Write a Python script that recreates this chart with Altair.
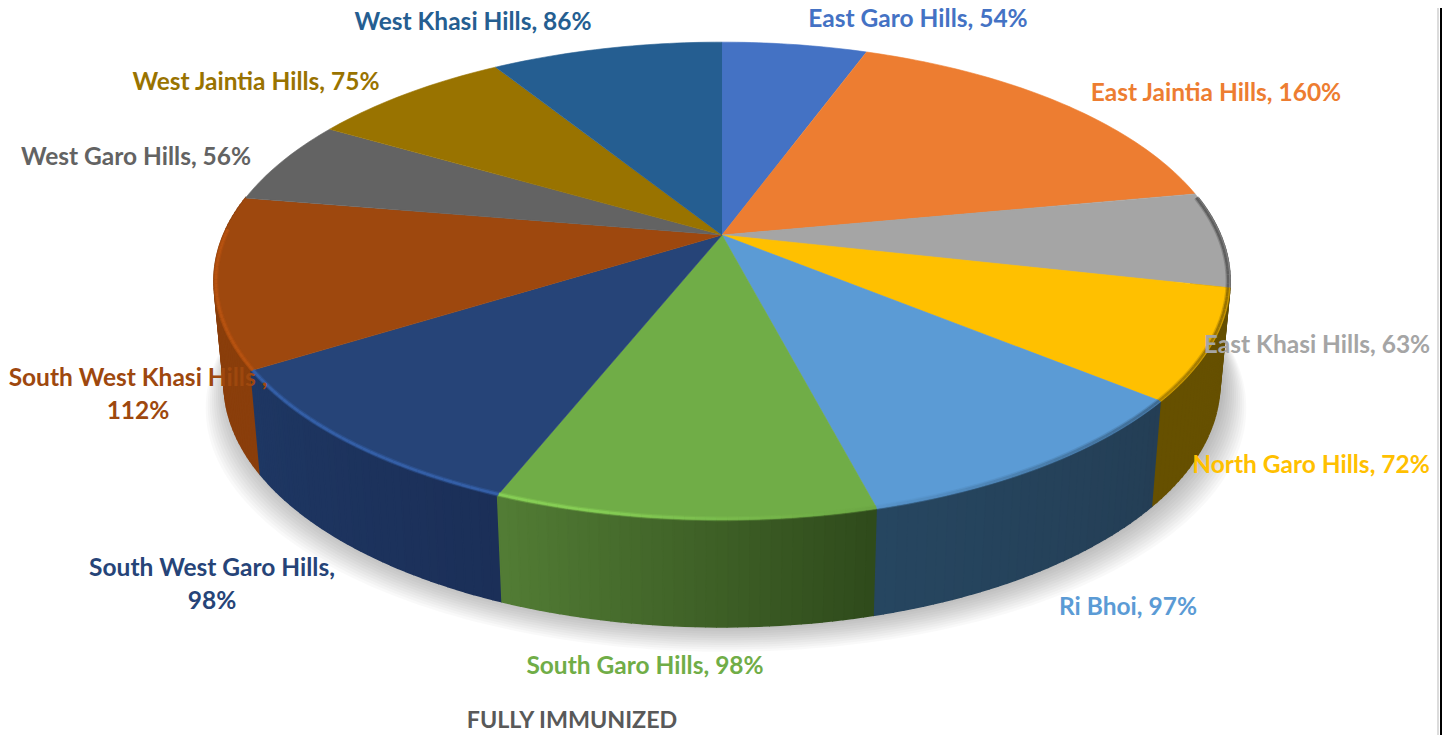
import math
import altair as alt
import pandas as pd

NAMES = ["East Garo Hills", "East Jaintia Hills", "East Khasi Hills", "North Garo Hills",
         "Ri Bhoi", "South Garo Hills", "South West Garo Hills", "South West Khasi Hills",
         "West Garo Hills", "West Jaintia Hills", "West Khasi Hills"]
VALUES = [54, 160, 63, 72, 97, 98, 98, 112, 56, 75, 86]
COLORS = ["#4472C4", "#ED7D31", "#A5A5A5", "#FFC000", "#5B9BD5", "#70AD47",
          "#264478", "#9E480E", "#636363", "#997300", "#255E91"]
WALL_START = ["#2a4a80", "#8f4a1c", "#5a5a5a", "#665000", "#243e55", "#2f4a1b",
              "#1b2f58", "#8a3e0b", "#444444", "#665000", "#1b3f60"]
WALL_END = ["#2a4a80", "#8f4a1c", "#5a5a5a", "#665000", "#264660", "#527d35",
            "#1e3763", "#8a3e0b", "#444444", "#665000", "#1b3f60"]
LIT = [1.2, 1.2, 1.2, 1.2, 1.2, 1.22, 1.45, 1.17, 1.2, 1.2, 1.2]
TITLE = "FULLY IMMUNIZED"

# Label text (centre anchors in picture coordinates), one row per text line
LABELS = [
    (0, "{n}, {v}%", 918, 20), (1, "{n}, {v}%", 1216, 94), (2, "{n}, {v}%", 1317, 346),
    (3, "{n}, {v}%", 1311, 466), (4, "{n}, {v}%", 1128, 608), (5, "{n}, {v}%", 645, 667),
    (6, "{n},", 212, 569), (6, "{v}%", 212, 602), (7, "{n} ,", 138, 379), (7, "{v}%", 138, 412),
    (8, "{n}, {v}%", 136, 158), (9, "{n}, {v}%", 256, 83), (10, "{n}, {v}%", 473, 23),
]

CX, CY, A, B, K = 722.0, 235.0, 498.6, 230.0, 0.1925
FONT = "Lato"


def top(th):
    u, v = math.sin(th), math.cos(th)
    w = 1 + K * v
    return CX + A * u / w, CY - B * v / w


def low(th):
    x, y = top(th)
    return CX + 0.98 * (x - CX), y + 104 + 0.02 * (y - 368)


def mix(c1, c2, t):
    a = [int(c1[i:i + 2], 16) for i in (1, 3, 5)]
    b = [int(c2[i:i + 2], 16) for i in (1, 3, 5)]
    return "#%02x%02x%02x" % tuple(round(p + (q - p) * t) for p, q in zip(a, b))


def brighten(c, f):
    a = [int(c[i:i + 2], 16) for i in (1, 3, 5)]
    return "#%02x%02x%02x" % tuple(min(255, round(p * f)) for p in a)


total = sum(VALUES)
edges = [0.0]
for val in VALUES:
    edges.append(edges[-1] + val / total * 2 * math.pi)

STEP = math.radians(1.0)


def arc_angles(a0, a1):
    n = max(2, int((a1 - a0) / STEP))
    return [a0 + (a1 - a0) * j / n for j in range(n + 1)]


# shadow: nested outlines of the lower rim
shadow_rows = []
LEVELS = 12
for e in range(LEVELS):
    f = 1 - e / (LEVELS - 1)
    for k, th in enumerate(arc_angles(0, 2 * math.pi)):
        x, y = low(th)
        shadow_rows.append({"x": CX + 4 + (x - CX) * (1 + 0.045 * f), "y": y + 25 * f,
                            "g": f"s{e:02d}", "k": k})

# wall strips, back to front
strips = []
for i in range(len(VALUES)):
    angs = arc_angles(edges[i], edges[i + 1])
    for j in range(len(angs) - 1):
        t0, t1 = angs[j], angs[j + 1]
        mid = (t0 + t1) / 2
        if math.cos(mid) > 0.17:
            continue
        frac = (mid - edges[i]) / (edges[i + 1] - edges[i])
        strips.append((math.cos(mid), i, j, t0, t1, mix(WALL_START[i], WALL_END[i], frac)))
strips.sort(key=lambda s: -s[0])
wall_rows = []
for n, (_, i, j, t0, t1, col) in enumerate(strips):
    pts = [top(t0), top(t1), low(t1), low(t0)]
    for k, (x, y) in enumerate(pts):
        wall_rows.append({"x": x, "y": y, "g": f"w{n:04d}", "k": k, "c": col})

# top faces
face_rows = []
for i in range(len(VALUES)):
    pts = [(CX, CY)] + [top(t) for t in arc_angles(edges[i], edges[i + 1])]
    for k, (x, y) in enumerate(pts):
        face_rows.append({"x": x, "y": y, "g": f"f{i:02d}", "k": k, "c": COLORS[i]})

# bevel along the rim: lit from the left, shaded on the right
bevel_rows = []
for i in range(len(VALUES)):
    angs = arc_angles(edges[i], edges[i + 1])
    for t0, t1 in zip(angs, angs[1:]):
        mid = (t0 + t1) / 2
        s = -math.sin(mid) + 0.18
        if (s > 0 and math.cos(mid) > 0.02) or (s <= 0 and math.cos(mid) > 0.17):
            continue
        if s > 0:
            col = mix(COLORS[i], brighten(COLORS[i], LIT[i]), min(1.0, s / 0.4))
        else:
            col = mix(COLORS[i], "#000000", min(0.5, -s * 0.6))
        fade = 0.996
        p0 = top(t0)
        p1 = top(t1)
        bevel_rows.append({"x": CX + (p0[0] - CX) * fade, "y": CY + (p0[1] - CY) * fade,
                           "x2": CX + (p1[0] - CX) * fade, "y2": CY + (p1[1] - CY) * fade, "c": col})

label_rows = []
for i, tpl, lx, ly in LABELS:
    label_rows.append({"x": lx, "y": ly, "t": tpl.format(n=NAMES[i], v=VALUES[i]), "c": COLORS[i]})

sx = alt.Scale(domain=[8, 1442], range=[0, 1434], nice=False, zero=False)
sy = alt.Scale(domain=[8, 735], range=[0, 727], nice=False, zero=False)
X = alt.X("x:Q", scale=sx, axis=None)
Y = alt.Y("y:Q", scale=sy, axis=None)

shadow = alt.Chart(pd.DataFrame(shadow_rows)).mark_line(
    fill="#000000", fillOpacity=0.024, strokeWidth=0, interpolate="linear"
).encode(x=X, y=Y, detail="g:N", order="k:Q")


def poly(rows, sw):
    return alt.Chart(pd.DataFrame(rows)).mark_line(strokeWidth=sw).encode(
        x=X, y=Y, detail="g:N", order="k:Q",
        fill=alt.Fill("c:N", scale=None, legend=None),
        stroke=alt.Stroke("c:N", scale=None, legend=None),
    )


bev = pd.DataFrame(bevel_rows)
bevel1 = alt.Chart(bev).mark_rule(strokeWidth=5, opacity=0.35).encode(
    x=X, y=Y, x2="x2:Q", y2="y2:Q", color=alt.Color("c:N", scale=None, legend=None))
bevel2 = alt.Chart(bev).mark_rule(strokeWidth=2.5, opacity=0.8).encode(
    x=X, y=Y, x2="x2:Q", y2="y2:Q", color=alt.Color("c:N", scale=None, legend=None))

labels = alt.Chart(pd.DataFrame(label_rows)).mark_text(
    font=FONT, fontWeight="bold", fontSize=24.5, align="center", baseline="middle"
).encode(x=X, y=Y, text="t:N", color=alt.Color("c:N", scale=None, legend=None))

title = alt.Chart(pd.DataFrame({"x": [572], "y": [721], "t": [TITLE]})).mark_text(
    font=FONT, fontWeight="bold", fontSize=23.3, align="center", baseline="middle", color="#595959"
).encode(x=X, y=Y, text="t:N")

edge1 = alt.Chart(pd.DataFrame({"x": [1438]})).mark_rule(color="#dcdcdc", strokeWidth=2).encode(x=X)
edge2 = alt.Chart(pd.DataFrame({"x": [1441]})).mark_rule(color="#000000", strokeWidth=2).encode(x=X)

chart = alt.layer(shadow, poly(wall_rows, 1.6), poly(face_rows, 0.6), bevel1, bevel2, labels, title, edge1, edge2).properties(
    width=1434, height=727, padding=0, autosize=alt.AutoSizeParams(type="none"),
    background="#ffffff",
).configure_view(stroke=None)

chart.save("out.html", embed_options={"renderer": "svg", "actions": False})
